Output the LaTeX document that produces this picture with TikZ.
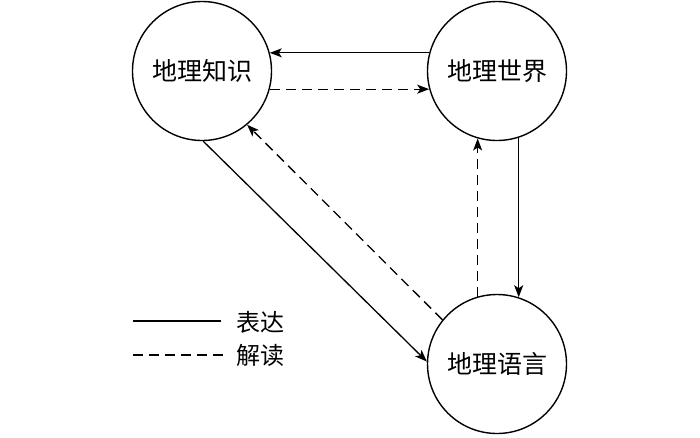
\documentclass[tikz,border=0pt]{standalone}
\usepackage{fontspec}
\newfontfamily\cjk{Noto Sans CJK SC}
\usetikzlibrary{arrows.meta}

\begin{document}
\begin{tikzpicture}[x=1pt, y=-1pt,
    place/.style={circle, draw, line width=1.4pt, minimum size=139pt, inner sep=0pt, font=\cjk\fontsize{25}{28}\selectfont},
    express/.style={line width=1.3pt, -{Stealth[length=12pt, width=9pt, inset=3pt]}},
    readback/.style={express, dash pattern=on 10pt off 6pt},
    legendtext/.style={anchor=west, inner sep=1pt, font=\cjk\fontsize{24}{28}\selectfont}]
    \useasboundingbox (0,0) rectangle (700,437);

    \node[place] (know) at (202, 71) {地理知识};
    \node[place] (world) at (497, 71) {地理世界};
    \node[place] (lang) at (497, 364) {地理语言};

    % between knowledge and world
    \draw[express] (world.165) -- (know.15);
    \draw[readback] (know.-15) -- (world.195);

    % between world and language
    \draw[express] (world.-72) -- (lang.72);
    \draw[readback] (lang.106) -- (world.-106);

    % between knowledge and language
    \draw[express] (know.-89) -- (lang.178);
    \draw[readback] (lang.141) -- (know.-50);

    % legend
    \node[legendtext] (kexp) at (235, 322) {表达};
    \node[legendtext] (kread) at (235, 355) {解读};
    \coordinate (sexp) at (133, 321);
    \coordinate (sread) at (133, 355);
    \draw[line width=1.3pt] (sexp) -- ([xshift=-14pt]kexp.west |- sexp);
    \draw[line width=1.3pt, dash pattern=on 10pt off 6pt] (sread) -- ([xshift=-6pt]kread.west |- sread);
\end{tikzpicture}
\end{document}
